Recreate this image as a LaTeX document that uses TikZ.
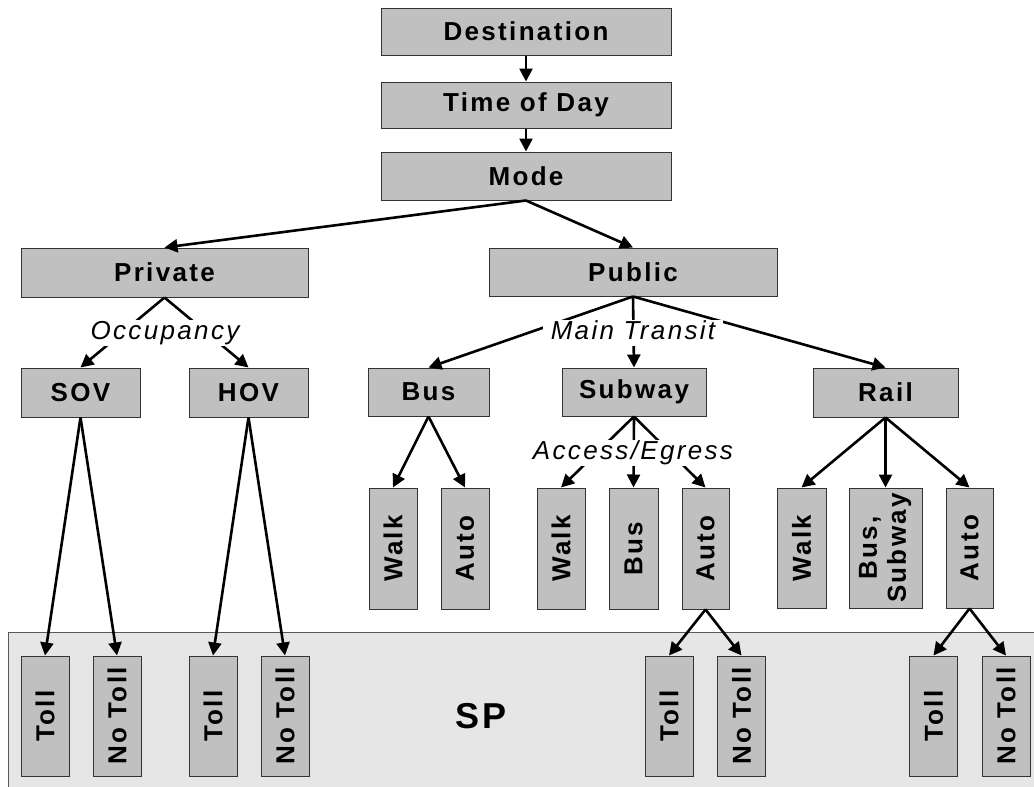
\documentclass[tikz,border=0pt]{standalone}
\usepackage{fontspec}
\setmainfont{Liberation Sans}[LetterSpace=9]
\usepackage{graphicx}
\usetikzlibrary{arrows.meta}
\definecolor{boxgray}{HTML}{C0C0C0}
\definecolor{spgray}{HTML}{E6E6E6}
\definecolor{edgegray}{HTML}{333333}

\begin{document}
\begin{tikzpicture}[x=1pt,y=-1pt,
  every node/.style={font=\fontsize{26}{29}\selectfont\bfseries},
  box/.style 2 args={draw=edgegray, fill=boxgray, line width=1pt, inner sep=0pt,
    align=center, minimum width=#1pt, minimum height=#2pt},
  vbox/.style={box={48}{120}},
  conn/.style={line width=2.6pt, -{Triangle[length=13pt,width=13pt]}},
  lbl/.style={font=\fontsize{26}{29}\selectfont\mdseries\itshape, fill=white,
    inner xsep=8pt, inner ysep=1pt, text height=19pt, text depth=5pt},
]
\useasboundingbox (0,0) rectangle (1034,787);

% stated-preference band
\fill[spgray] (8,632) rectangle (1034,787);
\draw[line width=1pt, black!65] (8,787) -- (8,632) -- (1034,632);
\node[font=\fontsize{36}{40}\selectfont\bfseries] (sp) at (481,716) {SP};

% upper chain
\node[box={290}{47}] (dest) at (526,31.5) {Destination};
\node[box={290}{46}] (tod) at (526,105) {Time of Day};
\node[box={290}{48}] (mode) at (526,176) {Mode};

% main split
\node[box={287}{49}] (private) at (164.5,272.5) {Private};
\node[box={288}{48}] (public) at (633,272) {Public};

% private modes
\node[box={119}{49}] (sov) at (80.5,392.5) {SOV};
\node[box={119}{49}] (hov) at (248.5,392.5) {HOV};

% transit modes
\node[box={121}{48}] (bus) at (428.5,392) {Bus};
\node[box={144}{48}] (subway) at (634,392) {Subway};
\node[box={145}{49}] (rail) at (885.5,392.5) {Rail};

% access / egress
\node[box={48}{121}] (walkA) at (393,548.5) {\rotatebox{90}{Walk}};
\node[box={48}{121}] (autoA) at (465,548.5) {\rotatebox{90}{Auto}};
\node[box={48}{121}] (walkB) at (561,548.5) {\rotatebox{90}{Walk}};
\node[box={49}{121}] (busB) at (633.5,548.5) {\rotatebox{90}{Bus}};
\node[box={47}{121}] (autoB) at (705.5,548.5) {\rotatebox{90}{Auto}};
\node[box={49}{120}] (walkC) at (801.5,548) {\rotatebox{90}{Walk}};
\node[box={73}{120}] (bsC) at (885.5,548) {\rotatebox{90}{\begin{tabular}{@{}c@{}}Bus,\\Subway\end{tabular}}};
\node[box={47}{120}] (autoC) at (969.5,548) {\rotatebox{90}{Auto}};

% toll choices
\node[vbox] (t1) at (45,716) {\rotatebox{90}{Toll}};
\node[vbox] (n1) at (117,716) {\rotatebox{90}{No Toll}};
\node[vbox] (t2) at (213,716) {\rotatebox{90}{Toll}};
\node[vbox] (n2) at (285,716) {\rotatebox{90}{No Toll}};
\node[vbox] (t3) at (669,716) {\rotatebox{90}{Toll}};
\node[vbox] (n3) at (741.5,716) {\rotatebox{90}{No Toll}};
\node[vbox] (t4) at (933.5,716) {\rotatebox{90}{Toll}};
\node[vbox] (n4) at (1006,716) {\rotatebox{90}{No Toll}};

% connectors
\draw[conn] (dest.south) -- (tod.north);
\draw[conn] (tod.south) -- (mode.north);
\draw[conn] (mode.south) -- (private.north);
\draw[conn] (mode.south) -- (public.north);
\draw[conn] (private.south) -- (sov.north);
\draw[conn] (private.south) -- (hov.north);
\draw[conn] (public.south) -- (bus.north);
\draw[conn] (public.south) -- (subway.north);
\draw[conn] (public.south) -- (rail.north);
\draw[conn] (bus.south) -- (walkA.north);
\draw[conn] (bus.south) -- (autoA.north);
\draw[conn] (subway.south) -- (walkB.north);
\draw[conn] (subway.south) -- (busB.north);
\draw[conn] (subway.south) -- (autoB.north);
\draw[conn] (rail.south) -- (walkC.north);
\draw[conn] (rail.south) -- (bsC.north);
\draw[conn] (rail.south) -- (autoC.north);
\draw[conn] (sov.south) -- (t1.north);
\draw[conn] (sov.south) -- (n1.north);
\draw[conn] (hov.south) -- (t2.north);
\draw[conn] (hov.south) -- (n2.north);
\draw[conn] (autoB.south) -- (t3.north);
\draw[conn] (autoB.south) -- (n3.north);
\draw[conn] (autoC.south) -- (t4.north);
\draw[conn] (autoC.south) -- (n4.north);

% branch labels over the connectors
\node[lbl] (occ) at (165,332.5) {Occupancy};
\node[lbl] (mt) at (633,332.5) {Main Transit};
\node[lbl, inner xsep=2pt] (ae) at (633,452.5) {Access/Egress};
\end{tikzpicture}
\end{document}
